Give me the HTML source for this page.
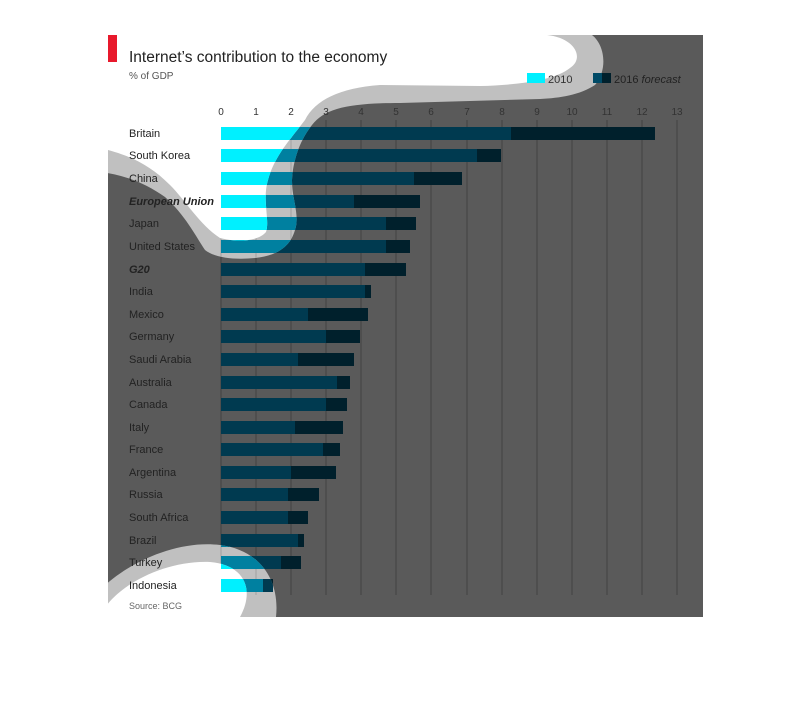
<!DOCTYPE html>
<html><head><meta charset="utf-8"><style>
html,body{margin:0;padding:0;background:#fff}
svg{display:block}
text{font-family:"Liberation Sans",sans-serif}
.g{fill:var(--a)} .f{fill:var(--b)} .l{stroke:var(--c);stroke-width:1.5}
</style></head><body>
<svg width="810" height="712" viewBox="0 0 810 712" xmlns="http://www.w3.org/2000/svg">
<defs>
<g id="bars">
<g class="l">
<line x1="221" y1="120" x2="221" y2="595"/><line x1="256" y1="120" x2="256" y2="595"/><line x1="291" y1="120" x2="291" y2="595"/><line x1="326" y1="120" x2="326" y2="595"/><line x1="361" y1="120" x2="361" y2="595"/><line x1="396" y1="120" x2="396" y2="595"/><line x1="431" y1="120" x2="431" y2="595"/><line x1="467" y1="120" x2="467" y2="595"/><line x1="502" y1="120" x2="502" y2="595"/><line x1="537" y1="120" x2="537" y2="595"/><line x1="572" y1="120" x2="572" y2="595"/><line x1="607" y1="120" x2="607" y2="595"/><line x1="642" y1="120" x2="642" y2="595"/><line x1="677" y1="120" x2="677" y2="595"/>
</g>
<g class="g">
<rect x="221" y="127" width="290" height="13"/><rect x="221" y="149" width="256" height="13"/><rect x="221" y="172" width="193" height="13"/><rect x="221" y="195" width="133" height="13"/><rect x="221" y="217" width="165" height="13"/><rect x="221" y="240" width="165" height="13"/><rect x="221" y="263" width="144" height="13"/><rect x="221" y="285" width="144" height="13"/><rect x="221" y="308" width="87" height="13"/><rect x="221" y="330" width="105" height="13"/><rect x="221" y="353" width="77" height="13"/><rect x="221" y="376" width="116" height="13"/><rect x="221" y="398" width="105" height="13"/><rect x="221" y="421" width="74" height="13"/><rect x="221" y="443" width="102" height="13"/><rect x="221" y="466" width="70" height="13"/><rect x="221" y="488" width="67" height="13"/><rect x="221" y="511" width="67" height="13"/><rect x="221" y="534" width="77" height="13"/><rect x="221" y="556" width="60" height="13"/><rect x="221" y="579" width="42" height="13"/>
</g>
<g class="f">
<rect x="511" y="127" width="144" height="13"/><rect x="477" y="149" width="24" height="13"/><rect x="414" y="172" width="48" height="13"/><rect x="354" y="195" width="66" height="13"/><rect x="386" y="217" width="30" height="13"/><rect x="386" y="240" width="24" height="13"/><rect x="365" y="263" width="41" height="13"/><rect x="365" y="285" width="6" height="13"/><rect x="308" y="308" width="60" height="13"/><rect x="326" y="330" width="34" height="13"/><rect x="298" y="353" width="56" height="13"/><rect x="337" y="376" width="13" height="13"/><rect x="326" y="398" width="21" height="13"/><rect x="295" y="421" width="48" height="13"/><rect x="323" y="443" width="17" height="13"/><rect x="291" y="466" width="45" height="13"/><rect x="288" y="488" width="31" height="13"/><rect x="288" y="511" width="20" height="13"/><rect x="298" y="534" width="6" height="13"/><rect x="281" y="556" width="20" height="13"/><rect x="263" y="579" width="10" height="13"/>
</g>
</g>
<clipPath id="cH">
<path d="M100,35 L592,35 C605,45 608,70 595,85 C580,95 560,98 540,99 L400,103 C350,103 325,108 312,125 C300,140 293,160 292,180 C292,200 300,215 295,230 C290,248 275,256 255,258 C235,260 215,258 205,250 C195,235 185,215 165,197 C145,183 125,175 100,172 Z"/>
<path d="M100,590 C130,560 180,540 220,545 C260,550 280,580 276,617 L100,617 Z"/>
</clipPath>
<clipPath id="cW">
<path d="M100,35 L547,35 C575,38 585,58 570,68 C555,80 520,85 480,86 L380,85 C340,88 315,100 305,120 C290,140 275,155 268,180 C262,200 270,220 266,232 C258,242 235,242 220,238 C200,225 185,200 170,185 C150,165 130,155 100,148 Z"/>
<path d="M100,617 C110,590 160,560 210,562 C245,565 255,590 240,617 Z"/>
</clipPath>
</defs>
<rect x="108" y="35" width="595" height="582" fill="#5a5a5a"/>
<use href="#bars" style="--a:#003a50;--b:#00202c;--c:#4a4a4a"/>
<g clip-path="url(#cH)"><rect x="100" y="30" width="610" height="600" fill="#c0c0c0"/><use href="#bars" style="--a:#0080a0;--b:#003a50;--c:#aaa"/></g>
<g clip-path="url(#cW)"><rect x="100" y="30" width="610" height="600" fill="#fff"/><use href="#bars" style="--a:#00f0ff;--b:#00c8e0;--c:#fff"/></g>
<rect x="0" y="0" width="810" height="35" fill="#fff"/>
<rect x="0" y="617" width="810" height="95" fill="#fff"/>
<rect x="0" y="0" width="108" height="712" fill="#fff"/>
<rect x="703" y="0" width="107" height="712" fill="#fff"/>
<rect x="108" y="35" width="9" height="27" fill="#e8192c"/>
<text x="129" y="62" font-size="15.5" fill="#222">Internet’s contribution to the economy</text>
<text x="129" y="79" font-size="10" fill="#555">% of GDP</text>
<rect x="527" y="73" width="18" height="10" fill="#00f0ff"/>
<text x="548" y="83" font-size="11" fill="#333">2010</text>
<rect x="593" y="73" width="9" height="10" fill="#004a66"/><rect x="602" y="73" width="9" height="10" fill="#00202c"/>
<text x="614" y="83" font-size="11" fill="#222">2016 <tspan font-style="italic">forecast</tspan></text>
<g font-size="10" fill="#333" text-anchor="middle">
<text x="221" y="115">0</text><text x="256" y="115">1</text><text x="291" y="115">2</text><text x="326" y="115">3</text><text x="361" y="115">4</text><text x="396" y="115">5</text><text x="431" y="115">6</text><text x="467" y="115">7</text><text x="502" y="115">8</text><text x="537" y="115">9</text><text x="572" y="115">10</text><text x="607" y="115">11</text><text x="642" y="115">12</text><text x="677" y="115">13</text>
</g>
<g font-size="11" fill="#222">
<text x="129" y="137">Britain</text><text x="129" y="159">South Korea</text><text x="129" y="182">China</text><text x="129" y="205" font-weight="bold" font-style="italic">European Union</text><text x="129" y="227">Japan</text><text x="129" y="250">United States</text><text x="129" y="273" font-weight="bold" font-style="italic">G20</text><text x="129" y="295">India</text><text x="129" y="318">Mexico</text><text x="129" y="340">Germany</text><text x="129" y="363">Saudi Arabia</text><text x="129" y="386">Australia</text><text x="129" y="408">Canada</text><text x="129" y="431">Italy</text><text x="129" y="453">France</text><text x="129" y="476">Argentina</text><text x="129" y="498">Russia</text><text x="129" y="521">South Africa</text><text x="129" y="544">Brazil</text><text x="129" y="566">Turkey</text><text x="129" y="589">Indonesia</text>
</g>
<text x="129" y="609" font-size="9" fill="#666">Source: BCG</text>
</svg>
</body></html>
